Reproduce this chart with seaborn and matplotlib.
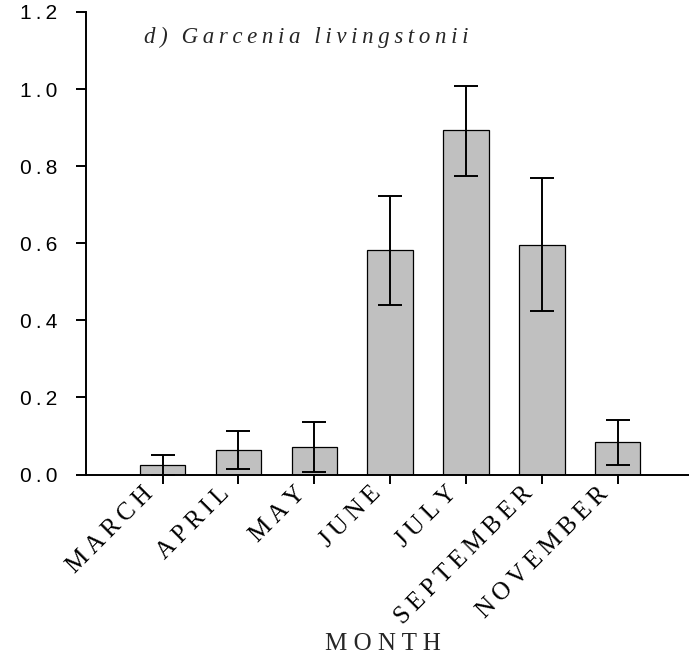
import matplotlib
matplotlib.use('Agg')
import matplotlib.pyplot as plt
import matplotlib.transforms as mtransforms
import seaborn as sns
import pandas as pd

months = ['MARCH', 'APRIL', 'MAY', 'JUNE', 'JULY', 'SEPTEMBER', 'NOVEMBER']
mean_val = [0.025, 0.064, 0.072, 0.582, 0.893, 0.596, 0.084]
err_low = [0.0, 0.013, 0.007, 0.440, 0.775, 0.423, 0.024]
err_high = [0.051, 0.114, 0.136, 0.723, 1.009, 0.769, 0.142]
yticks = [0.0, 0.2, 0.4, 0.6, 0.8, 1.0, 1.2]
ytick_labels = ['0.0', '0.2', '0.4', '0.6', '0.8', '1.0', '1.2']
title = 'd) Garcenia livingstonii'
xlabel = 'MONTH'

THIN = '\u2009'


def spaced(s, gap=THIN, word_gap=THIN * 3):
    # letter spaced text, like the original figure
    return word_gap.join(gap.join(w) for w in s.split(' '))


df = pd.DataFrame({'month': months, 'value': mean_val})

sns.set_style('ticks')
serif = ['Liberation Serif', 'DejaVu Serif']
sans = ['Liberation Sans', 'DejaVu Sans']

fig = plt.figure(figsize=(6.89, 6.56), dpi=100)
ax = fig.add_axes([86 / 689, 1 - 474.5 / 656, 1 - 86 / 689, (474.5 - 12) / 656])

sns.barplot(data=df, x='month', y='value', color='#C0C0C0', saturation=1,
            edgecolor='black', linewidth=0.9, width=0.6, errorbar=None, ax=ax)

yerr = [[m - lo for m, lo in zip(mean_val, err_low)],
        [hi - m for m, hi in zip(mean_val, err_high)]]
ax.errorbar(range(len(months)), mean_val, yerr=yerr, fmt='none', ecolor='black',
            elinewidth=1.4, capsize=8.4, capthick=1.4, zorder=5)

ax.set_xlim(-1.01, 6.94)
ax.set_ylim(0, 1.2)
ax.set_yticks(yticks)
ax.set_yticklabels([spaced(t) for t in ytick_labels], family=sans, fontsize=15)
ax.set_xticks(range(len(months)))
ax.set_xticklabels([spaced(m) for m in months], family=serif, fontsize=18,
                   rotation=45, ha='right', va='baseline', rotation_mode='anchor')

ax.tick_params(axis='y', direction='out', length=7.2, width=1.4, pad=13.5, colors='black')
ax.tick_params(axis='x', direction='out', length=6.5, width=1.4, pad=8, colors='black')

# nudge the rotated month labels a bit to the left (after tick_params, which resets transforms)
shift = mtransforms.ScaledTranslation(-6 / 72, 0, fig.dpi_scale_trans)
for tick in ax.xaxis.get_major_ticks():
    tick.label1.set_transform(tick.label1.get_transform() + shift)

sns.despine(ax=ax, top=True, right=True)
for side in ['left', 'bottom']:
    ax.spines[side].set_linewidth(1.4)
    ax.spines[side].set_color('black')

ax.set_ylabel('')
ax.set_xlabel(spaced(xlabel, ' '), family=serif, fontsize=18, va='center')
ax.xaxis.set_label_coords(0.492, -0.3665)

ax.text(0.097, 0.933, spaced(title), transform=ax.transAxes, family=serif,
        style='italic', fontsize=16.5, va='baseline', ha='left')

fig.savefig('out.png', dpi=100)
